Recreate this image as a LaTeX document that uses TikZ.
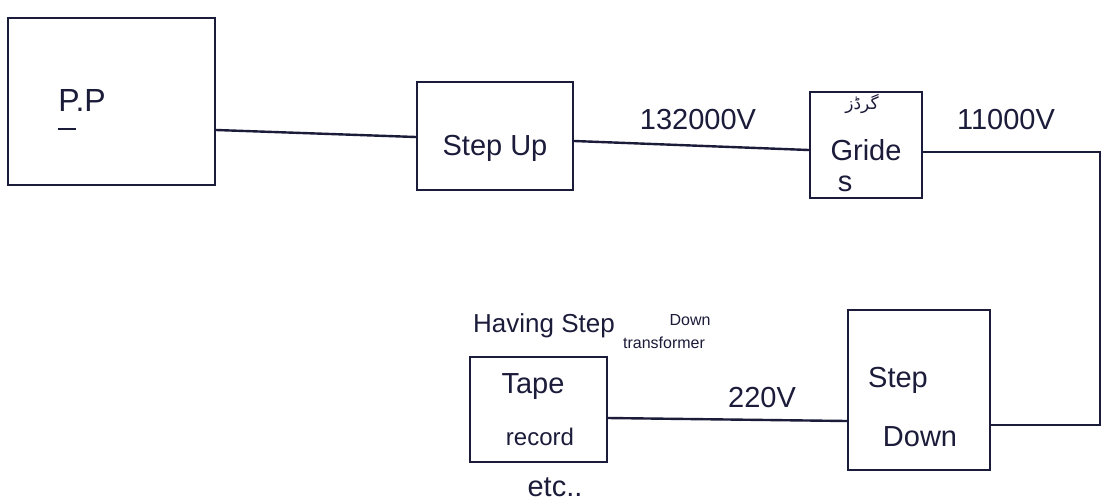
\documentclass[tikz,border=0pt]{standalone}
\usepackage{fontspec}
\setmainfont{Liberation Sans}
\newfontfamily\urdufont[Script=Arabic]{DejaVu Sans}
\TeXXeTstate=1
\begin{document}
\begin{tikzpicture}[x=1pt,y=-1pt,
  ink/.style={draw=inkc, line width=2.4pt},
  blk/.style={ink, rectangle, inner sep=0pt},
  lbl/.style={text=inkc, font=\fontsize{29}{31}\selectfont, inner sep=0pt},
  sml/.style={text=inkc, font=\fontsize{16}{17}\selectfont, inner sep=0pt}]
\definecolor{inkc}{HTML}{1B1B3A}
\useasboundingbox[fill=white] (0,0) rectangle (1107,501);
% boxes
\node[blk, minimum width=207pt, minimum height=167pt] (pp) at (111.5,101.5) {};
\node[blk, minimum width=156pt, minimum height=108pt] (su) at (495,136) {};
\node[blk, minimum width=112pt, minimum height=106pt] (gr) at (866,145) {};
\node[blk, minimum width=142pt, minimum height=160pt] (sd) at (919,390) {};
\node[blk, minimum width=137pt, minimum height=105pt] (tr) at (538.5,409.5) {};
% box texts
\node[lbl, font=\fontsize{32}{34}\selectfont] (pptxt) at (82,100) {P.P};
\draw[ink, line width=1.8pt] (58,129) -- (76,129);
\node[lbl] (sutxt) at (495,148) {Step Up};
\node[sml, font=\fontsize{17}{18}\selectfont\urdufont] (urd) at (862,104) {\beginR گرڈز\endR};
\node[lbl] (grtxt) at (866,150) {Gride};
\node[lbl] (grs) at (845,184) {s};
\node[lbl] (sdt1) at (898,380) {Step};
\node[lbl] (sdt2) at (920,437) {Down};
\node[lbl] (trt1) at (533,387) {Tape};
\node[lbl, font=\fontsize{24}{26}\selectfont] (trt2) at (540,437) {record};
% connectors
\coordinate (c1) at (1100,152);
\coordinate (c2) at (1100,425);
\draw[ink] (pp.east |- 0,130) -- (su.west |- 0,137);
\draw[ink] (su.east |- 0,141) -- (gr.west |- 0,150);
\draw[ink] (gr.east |- 0,152) -- (c1) -- (c2) -- (sd.east |- 0,425);
\draw[ink] (sd.west |- 0,421) -- (tr.east |- 0,418);
% labels
\node[lbl] (v1) at (698,120) {132000V};
\node[lbl] (v2) at (1006,120) {11000V};
\node[lbl] (v3) at (762,398) {220V};
\node[lbl, font=\fontsize{26}{28}\selectfont] (hv) at (544,326) {Having Step};
\node[sml] (hd) at (690,320) {Down};
\node[sml] (ht) at (664,343) {transformer};
\node[lbl] (etc) at (555,487) {etc..};
\end{tikzpicture}
\end{document}
